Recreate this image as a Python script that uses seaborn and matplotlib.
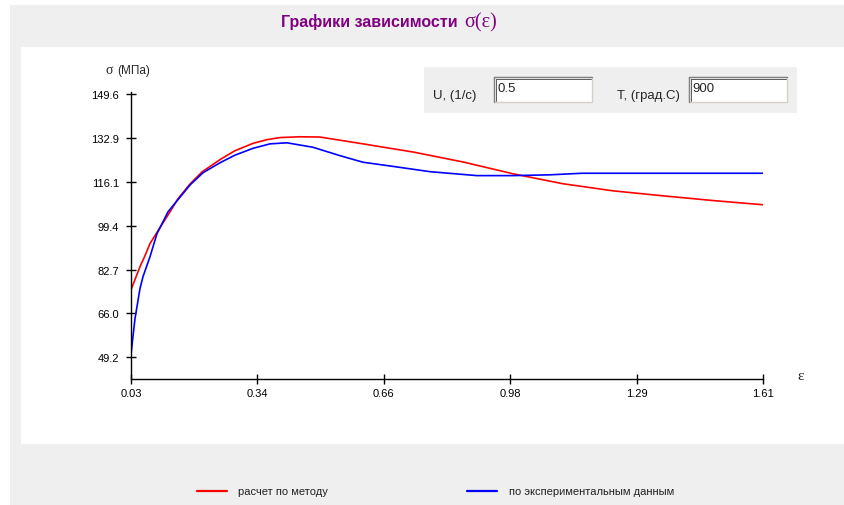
import matplotlib
matplotlib.use('Agg')
import matplotlib.pyplot as plt
from matplotlib.patches import Rectangle
from matplotlib.lines import Line2D
import seaborn as sns
import pandas as pd
import numpy as np

# data
calc_eps = [0.03, 0.0525, 0.065, 0.0775, 0.0975, 0.1275, 0.1475, 0.1775, 0.2075, 0.2525, 0.29,
            0.335, 0.37, 0.4025, 0.4525, 0.5025, 0.61, 0.735, 0.86, 0.985, 1.11, 1.235, 1.36,
            1.485, 1.61]
calc_sigma = [75.0, 83.8, 88.0, 92.6, 97.5, 104.7, 109.7, 115.3, 119.9, 124.6, 128.0,
              130.8, 132.2, 133.0, 133.3, 133.2, 130.6, 127.5, 123.7, 119.2, 115.4, 112.7, 110.8,
              109.0, 107.4]

exp_eps = [0.03, 0.04, 0.0525, 0.06, 0.0775, 0.095, 0.1225, 0.145, 0.178, 0.21, 0.2525, 0.29,
           0.335, 0.3775, 0.42, 0.485, 0.5525, 0.61, 0.695, 0.7775, 0.895, 0.985, 1.0775,
           1.1575, 1.61]
exp_sigma = [50.5, 64.0, 75.5, 80.0, 87.6, 96.4, 104.7, 108.9, 115.0, 119.6, 123.4, 126.3,
             128.9, 130.6, 131.0, 129.3, 126.1, 123.6, 121.8, 120.0, 118.5, 118.5, 118.8,
             119.4, 119.4]

x_ticks = [0.03, 0.346, 0.662, 0.978, 1.294, 1.61]
x_labels = ['0.03', '0.34', '0.66', '0.98', '1.29', '1.61']
y_ticks = [49.2, 66.0, 82.7, 99.4, 116.1, 132.9, 149.6]
y_labels = ['49.2', '66.0', '82.7', '99.4', '116.1', '132.9', '149.6']

series = ['расчет по методу', 'по экспериментальным данным']
colors = {series[0]: '#ff0000', series[1]: '#0000ff'}

df = pd.concat([
    pd.DataFrame({'eps': calc_eps, 'sigma': calc_sigma, 'kind': series[0]}),
    pd.DataFrame({'eps': exp_eps, 'sigma': exp_sigma, 'kind': series[1]}),
])

sns.set_style('white')
plt.rcParams['font.family'] = ['Liberation Sans', 'DejaVu Sans']

W, H = 844, 506
fig = plt.figure(figsize=(W / 100, H / 100), dpi=100, facecolor='white')


def fx(x):
    return x / W


def fy(y):
    return 1 - y / H


def rect(x0, y0, x1, y1, **kw):
    r = Rectangle((fx(x0), fy(y1)), fx(x1) - fx(x0), fy(y0) - fy(y1),
                  transform=fig.transFigure, **kw)
    fig.add_artist(r)
    return r


gray = '#efefef'
# window backgrounds
rect(10, 6, W, H, facecolor=gray, edgecolor='none', zorder=-2)
rect(21, 48, W, 445, facecolor='white', edgecolor='none', zorder=-1)

# title
fig.text(fx(458), fy(22), 'Графики зависимости', color='#800080', fontsize=11.5,
         fontweight='bold', ha='right', va='center')
fig.text(fx(464), fy(23), 'σ(ε)', color='#800080', fontsize=14.5, ha='left', va='center',
         family=['Liberation Serif', 'DejaVu Serif'])

# axes
ax = fig.add_axes([fx(131), fy(380), (763 - 131) / W, (380 - 95) / H])
ax.set_facecolor('none')
sns.lineplot(data=df, x='eps', y='sigma', hue='kind', palette=colors, ax=ax,
             linewidth=1.2, legend=False, sort=False, estimator=None)
ax.set_xlim(0.03, 1.61)
ax.set_ylim(41.0, 149.6)
ax.set_xticks(x_ticks)
ax.set_xticklabels(x_labels)
ax.set_yticks(y_ticks)
ax.set_yticklabels(y_labels)
ax.set_xlabel('')
ax.set_ylabel('')
for s in ['top', 'right']:
    ax.spines[s].set_visible(False)
for s in ['left', 'bottom']:
    ax.spines[s].set_color('black')
    ax.spines[s].set_linewidth(1.0)
ax.tick_params(bottom=True, left=True, direction='inout', length=7, width=1,
               colors='black', labelsize=8, pad=3)
ax.tick_params(axis='y', pad=5)
ax.spines['left'].set_bounds(41.0, 150.5)

fig.text(fx(106), fy(71), 'σ', fontsize=10, ha='left', va='center', family=['Liberation Serif', 'DejaVu Serif'])
fig.text(fx(117), fy(71), '(МПа)', fontsize=8.5, ha='left', va='center')
fig.text(fx(797), fy(377), 'ε', fontsize=11, ha='left', va='center', family=['Liberation Serif', 'DejaVu Serif'])

# parameter panel
rect(424, 68, 797, 114, facecolor=gray, edgecolor='none', zorder=1)


def textbox(x0, y0, x1, y1, value):
    rect(x0, y0, x1, y1, facecolor='white', edgecolor='#d4d0c8', linewidth=1, zorder=2)
    fig.add_artist(Line2D([fx(x0), fx(x1)], [fy(y0), fy(y0)], color='#808080', lw=1.0,
                          transform=fig.transFigure, zorder=3))
    fig.add_artist(Line2D([fx(x0), fx(x0)], [fy(y0), fy(y1)], color='#808080', lw=1.0,
                          transform=fig.transFigure, zorder=3))
    fig.add_artist(Line2D([fx(x0 + 1.5), fx(x1 - 1)], [fy(y0 + 1.5), fy(y0 + 1.5)], color='#404040',
                          lw=0.6, transform=fig.transFigure, zorder=3))
    fig.add_artist(Line2D([fx(x0 + 1.5), fx(x0 + 1.5)], [fy(y0 + 1.5), fy(y1 - 1)], color='#404040',
                          lw=0.6, transform=fig.transFigure, zorder=3))
    fig.text(fx(x0 + 3), fy(y0 + 11), value, fontsize=9.5, ha='left', va='center', zorder=4)


fig.text(fx(433), fy(96), 'U, (1/с)', fontsize=9.5, ha='left', va='center')
textbox(494, 78, 592, 103, '0.5')
fig.text(fx(617), fy(96), 'T, (град.С)', fontsize=9.5, ha='left', va='center')
textbox(689, 78, 787, 103, '900')

# legend at the bottom
leg = [(197, 238, series[0]), (467, 509, series[1])]
for x_line, x_text, name in leg:
    fig.add_artist(Line2D([fx(x_line), fx(x_line + 30)], [fy(492), fy(492)], color=colors[name],
                          lw=1.6, transform=fig.transFigure))
    fig.text(fx(x_text), fy(492), name, fontsize=8, ha='left', va='center', color='#202020')

fig.savefig('out.png', dpi=100, facecolor='white')
